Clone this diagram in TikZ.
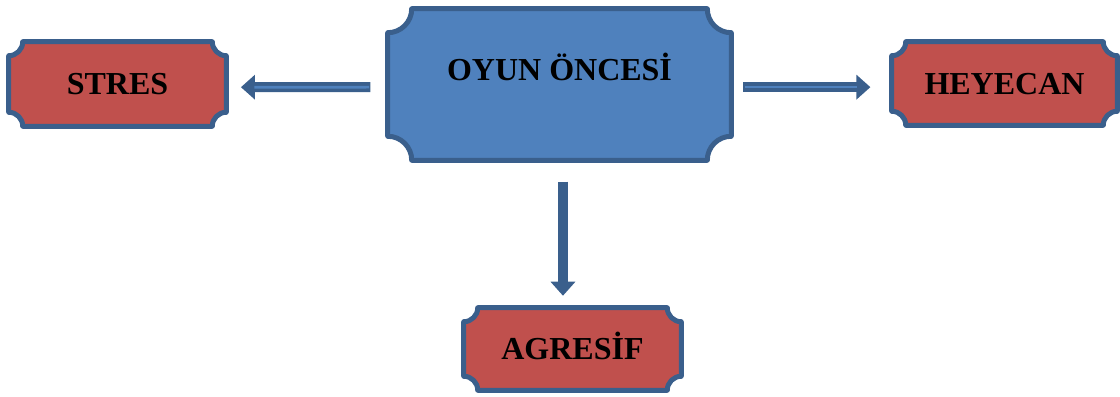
\documentclass[tikz,border=0pt]{standalone}
\usepackage{fontspec}
\setmainfont{Liberation Serif}
\usepackage{tikz}
\usetikzlibrary{arrows.meta,backgrounds}

\definecolor{mainblue}{HTML}{4F81BD}
\definecolor{edgeblue}{HTML}{3A5F8C}
\definecolor{boxred}{HTML}{C0504D}

% plaque with hollow corners round a node: node, corner radius, fill
\newcommand{\plaque}[3]{%
  \path[draw=edgeblue, line width=3.75pt, fill=#3, line join=round]
    ([xshift=#2]#1.north west) -- ([xshift=-#2]#1.north east)
    arc[start angle=180, end angle=270, radius=#2]
    -- ([yshift=#2]#1.south east)
    arc[start angle=90, end angle=180, radius=#2]
    -- ([xshift=#2]#1.south west)
    arc[start angle=0, end angle=90, radius=#2]
    -- ([yshift=-#2]#1.north west)
    arc[start angle=270, end angle=360, radius=#2] -- cycle;}

\tikzset{
  label/.style={rectangle, inner sep=0pt, text height=16pt, text depth=0pt,
    font=\fontsize{24}{29}\selectfont\bfseries},
  flow/.style={draw=edgeblue, line width=7.5pt,
    -{Triangle[length=10.5pt,width=18pt]}},
  gleam/.style={draw=mainblue, line width=2pt}
}

\begin{document}
\begin{tikzpicture}[x=0.75pt, y=0.75pt]
	\useasboundingbox (0,0) rectangle (1120,396);
	\node[label, text depth=21.4pt, minimum width=257.25pt, minimum height=113.25pt] (main) at (559.5,311.5) {OYUN ÖNCESİ};
	\node[label, minimum width=162.75pt, minimum height=63pt] (stres) at (117.5,312) {STRES};
	\node[label, minimum width=168.75pt, minimum height=62.25pt] (heyecan) at (1004.5,312.5) {HEYECAN};
	\node[label, minimum width=162.75pt, minimum height=61.5pt] (agresif) at (572.5,47) {AGRESİF};
	\begin{scope}[on background layer]
		\plaque{main}{18pt}{mainblue}
		\plaque{stres}{10.5pt}{boxred}
		\plaque{heyecan}{10.5pt}{boxred}
		\plaque{agresif}{10.5pt}{boxred}
	\end{scope}
	% arrows
	\draw[flow, shorten <=13pt, shorten >=11pt] ([yshift=-2pt]main.west) -- ([yshift=-2.4pt]stres.east);
	\draw[gleam, shorten <=14pt, shorten >=21pt] ([yshift=-2pt]main.west) -- ([yshift=-2.4pt]stres.east);
	\draw[flow, shorten <=9pt, shorten >=16pt] ([yshift=-2pt]main.east) -- ([yshift=-2.75pt]heyecan.west);
	\draw[gleam, shorten <=10pt, shorten >=26pt] ([yshift=-2pt]main.east) -- ([yshift=-2.75pt]heyecan.west);
	\coordinate (drop) at ([xshift=2.6pt,yshift=-16pt]main.south);
	\draw[flow, shorten >=9pt] (drop) -- (drop |- agresif.north);
\end{tikzpicture}
\end{document}
